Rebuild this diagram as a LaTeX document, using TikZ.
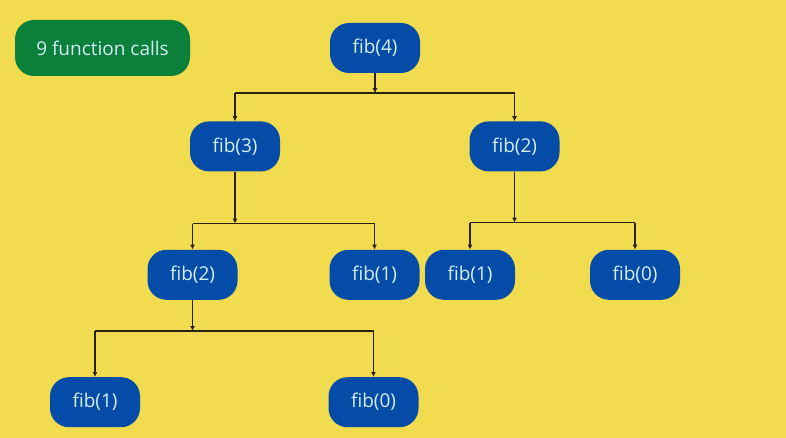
\documentclass[tikz,border=0pt]{standalone}
\usepackage{fontspec}
\setmainfont{Open Sans}
\usetikzlibrary{arrows.meta, positioning}
\usepackage{xcolor}
\definecolor{PageYellow}{RGB}{241,220,80}
\definecolor{CallBlue}{RGB}{5,76,168}
\definecolor{CountGreen}{RGB}{10,128,58}
\definecolor{LabelCyan}{RGB}{212,240,244}
\definecolor{LineDark}{RGB}{40,34,20}

\begin{document}
\begin{tikzpicture}[
          call/.style={rectangle, rounded corners=19pt, fill=CallBlue, minimum width=90pt, minimum height=50pt, inner sep=0pt, text=LabelCyan, font=\fontsize{19}{22}\selectfont},
          count/.style={rectangle, rounded corners=19pt, fill=CountGreen, minimum width=175pt, minimum height=56pt, inner sep=0pt, text=LabelCyan, font=\fontsize{19}{22}\selectfont},
          link/.style={line width=1.6pt, LineDark},
          arrow/.style={-{Latex[length=5pt,width=5pt]}, line width=1.6pt, LineDark}
        ]
          \fill[PageYellow] (0pt,0pt) rectangle (786pt,-438pt);
          \useasboundingbox (0pt,0pt) rectangle (786pt,-438pt);
          \node (calls) [count] at (102.5pt,-48pt) {9 function calls};
          \node (fibA) [call] at (375pt,-48pt) {fib(4)};
          \node (fibB) [call, below=48pt of fibA, xshift=-140pt] {fib(3)};
          \node (fibC) [call, below=48pt of fibA, xshift=139.5pt] {fib(2)};
          \node (fibD) [call, below=78pt of fibB, xshift=-42.5pt] {fib(2)};
          \node (fibE) [call, below=78pt of fibB, xshift=139.5pt] {fib(1)};
          \node (fibF) [call, below=78pt of fibC, xshift=-44.5pt] {fib(1)};
          \node (fibG) [call, below=78pt of fibC, xshift=120.5pt] {fib(0)};
          \node (fibH) [call, below=77pt of fibD, xshift=-97.5pt] {fib(1)};
          \node (fibI) [call, below=77pt of fibD, xshift=181pt] {fib(0)};
          % junction points under each parent
          \coordinate (jA) at ([yshift=-20pt]fibA.south);
          \coordinate (jB) at ([yshift=-52pt]fibB.south);
          \coordinate (jC) at ([yshift=-51pt]fibC.south);
          \coordinate (jD) at ([yshift=-31pt]fibD.south);
          % fib(4)
          \draw[arrow] (fibA) -- (jA);
          \draw[link] (jA -| fibB) -- (jA -| fibC);
          \draw[arrow] (jA -| fibB) -- (fibB);
          \draw[arrow] (jA -| fibC) -- (fibC);
          % fib(3)
          \draw[arrow] (fibB) -- (jB);
          \draw[link] (jB -| fibD) -- (jB -| fibE);
          \draw[arrow] (jB -| fibD) -- (fibD);
          \draw[arrow] (jB -| fibE) -- (fibE);
          % fib(2) right
          \draw[arrow] (fibC) -- (jC);
          \draw[link] (jC -| fibF) -- (jC -| fibG);
          \draw[arrow] (jC -| fibF) -- (fibF);
          \draw[arrow] (jC -| fibG) -- (fibG);
          % fib(2) left
          \draw[arrow] (fibD) -- (jD);
          \draw[link] (jD -| fibH) -- (jD -| fibI);
          \draw[arrow] (jD -| fibH) -- (fibH);
          \draw[arrow] (jD -| fibI) -- (fibI);
        \end{tikzpicture}
\end{document}
